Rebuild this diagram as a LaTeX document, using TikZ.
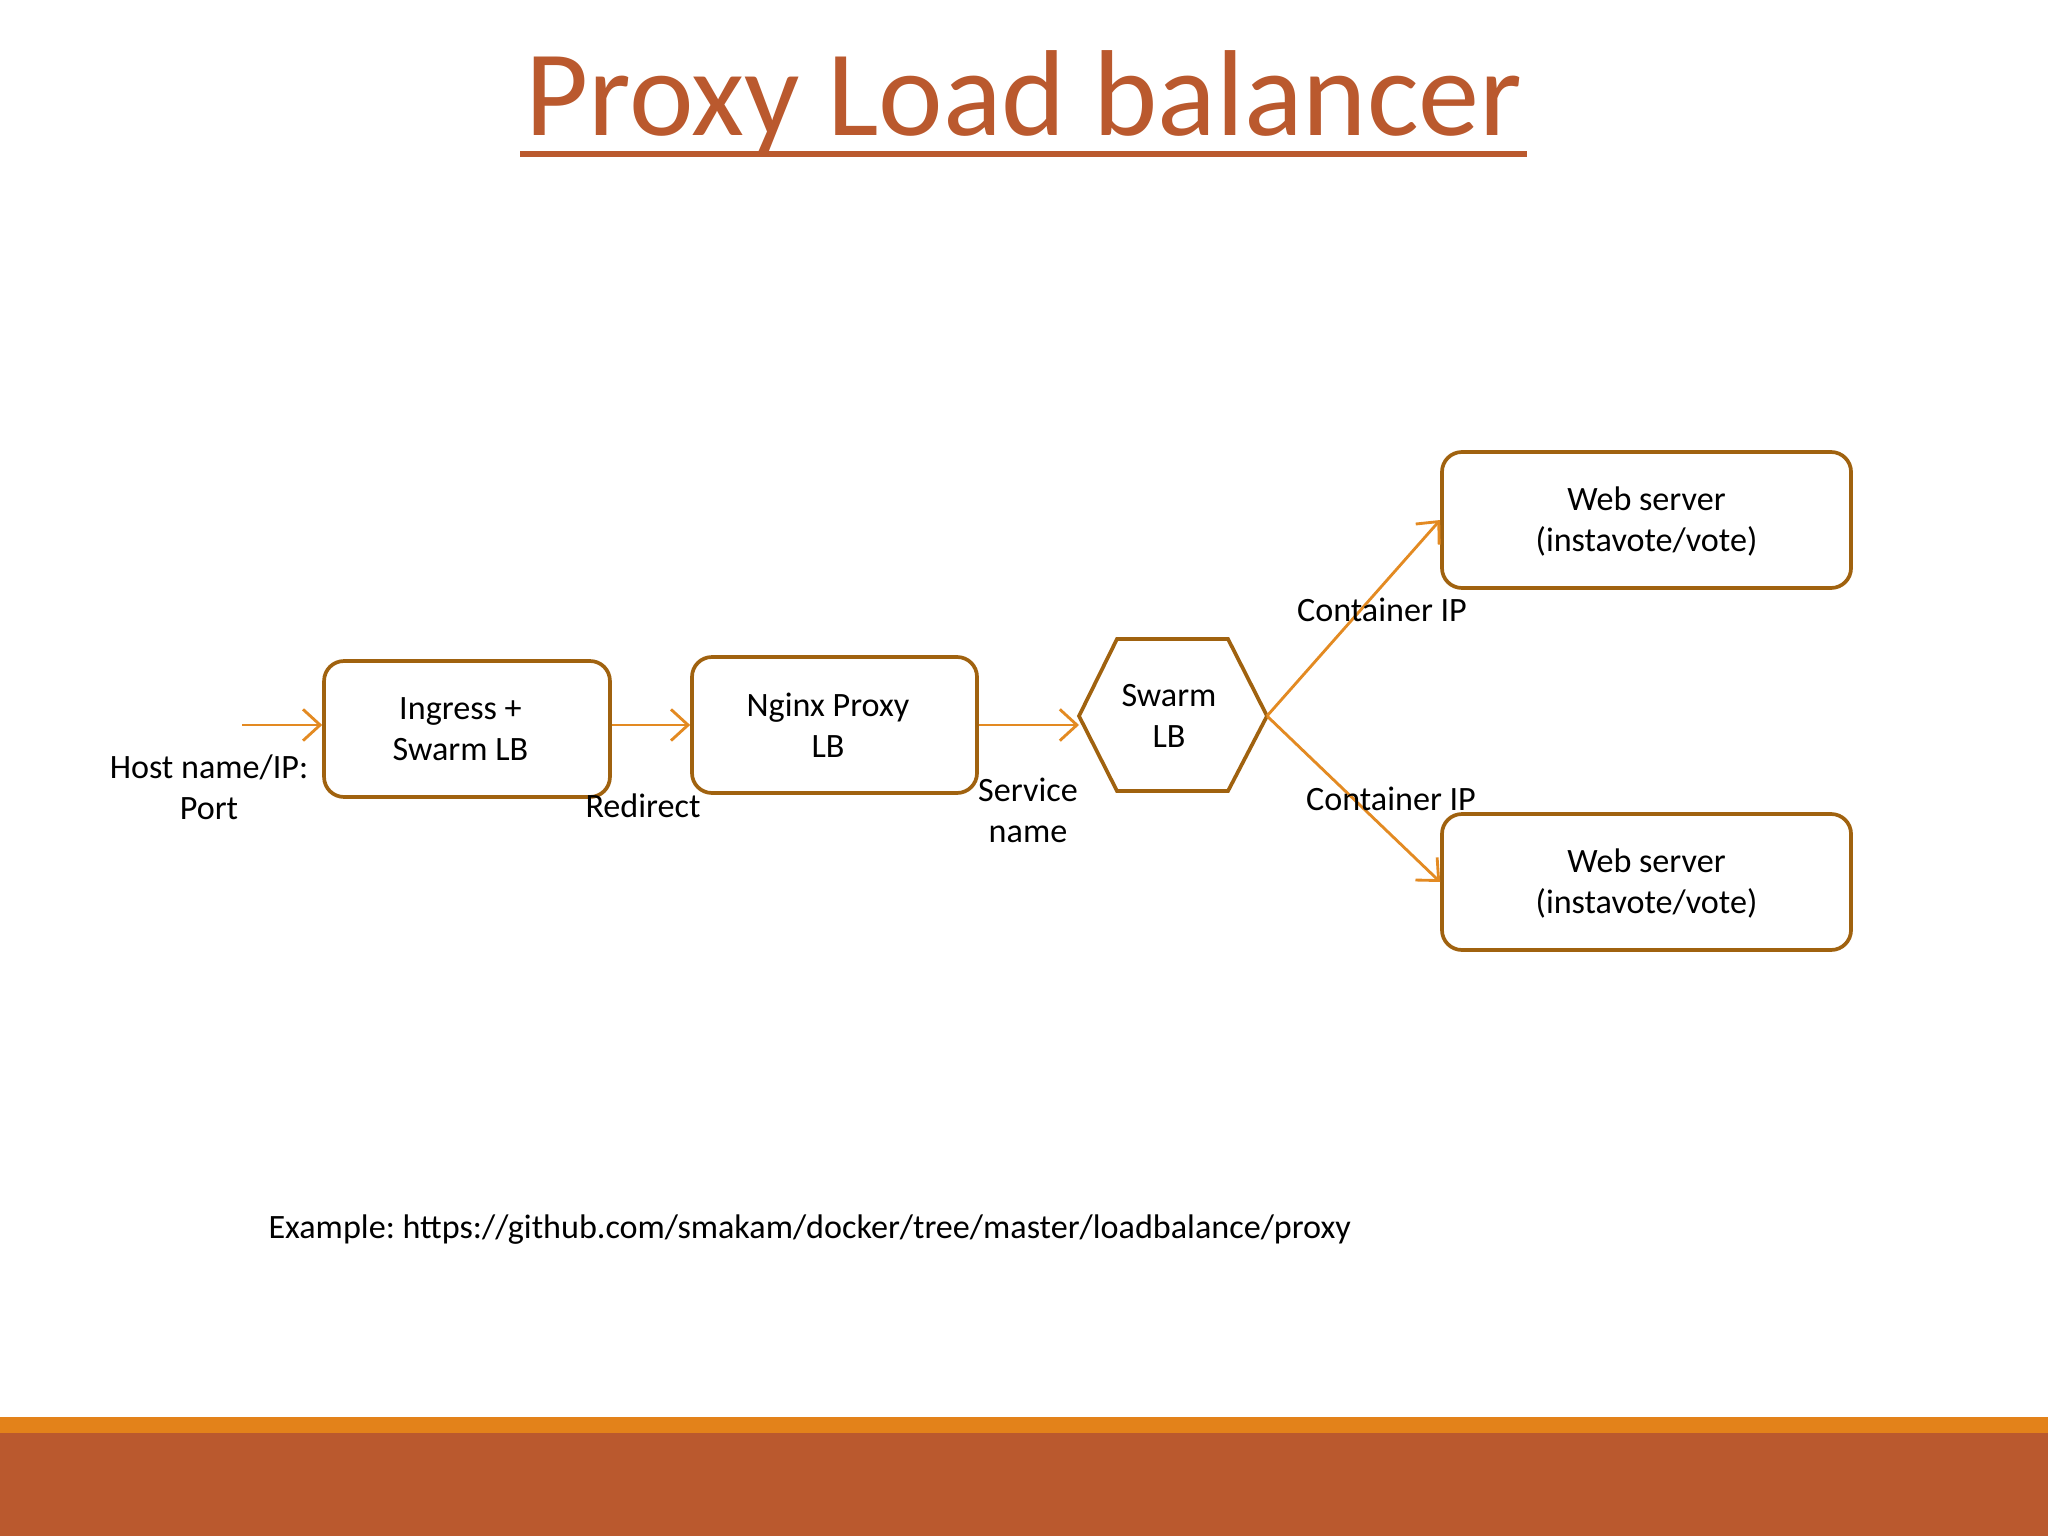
\documentclass[tikz,border=0pt]{standalone}
\usepackage{fontspec}
\setmainfont{Carlito}
\usetikzlibrary{arrows.meta}
\definecolor{rust}{HTML}{BA592E}
\definecolor{bar}{HTML}{E3821A}
\definecolor{boxc}{HTML}{A0620F}
\definecolor{arrc}{HTML}{E38A22}
\frenchspacing
\begin{document}
\begin{tikzpicture}[x=0.3515625pt,y=-0.3515625pt,
  box/.style={draw=boxc, line width=1.3pt, rounded corners=7pt, fill=white, align=center,
    minimum height=47.8pt, font=\fontsize{12}{14.4}\selectfont, inner sep=0pt},
  arr/.style={draw=arrc, line width=1pt, -{Straight Barb[length=6pt,width=11pt]}},
  lbl/.style={align=center, font=\fontsize{12}{14.4}\selectfont, inner sep=0pt}]
\useasboundingbox (0,0) rectangle (2048,1536);
\fill[white] (0,0) rectangle (2048,1536);
% title
\node[text=rust, font=\fontsize{43}{50}\selectfont, anchor=base, inner sep=0pt] (title) at (1024,136) {Proxy Load balancer};
\draw[rust, line width=1.8pt] (520,154) -- (1527,154);
% boxes
\node[box, minimum width=100.5pt] (ingress) at (467,729) {Ingress +\kern4.6pt\\Swarm LB\kern4.6pt};
\node[box, minimum width=100.2pt] (nginx) at (834.5,725) {Nginx Proxy\kern4.6pt\\LB\kern4.6pt};
\node[box, minimum width=143.8pt] (web1) at (1646.5,520) {\rule{0pt}{9.5pt}Web server\\(instavote/vote)};
\node[box, minimum width=143.8pt] (web2) at (1646.5,882) {\rule{0pt}{9.5pt}Web server\\(instavote/vote)};
% hexagon
\draw[boxc, line width=1.3pt, line join=miter, fill=white]
  (1079,716) coordinate (hexL) -- (1117,639) -- (1228,639) -- (1267,716) coordinate (hexR)
  -- (1228,791) -- (1117,791) -- cycle;
\node[lbl] (swarm) at (1169,716) {Swarm\\LB};
% connectors
\coordinate (start) at (242,725);
\draw[arr] (start) -- (start -| ingress.west);
\draw[arr] (ingress.east |- nginx.west) -- (nginx.west);
\draw[arr] (nginx.east) -- (nginx.east -| hexL);
\draw[arr] (hexR) -- (web1.west);
\draw[arr] (hexR) -- (web2.west);
% labels
\node[lbl] (host) at (209,787) {Host name/IP:\\Port};
\node[lbl] (redirect) at (643,806) {Redirect};
\node[lbl] (service) at (1028,810) {Service\\name};
\node[lbl] (cip1) at (1382,610) {Container IP};
\node[lbl] (cip2) at (1391,799) {Container IP};
\node[lbl, anchor=west] (example) at (268,1230) {Example: https://github.com/smakam/docker/tree/master/loadbalance/proxy};
% bottom bars
\fill[bar] (0,1417) rectangle (2048,1433);
\fill[rust] (0,1433) rectangle (2048,1536);
\end{tikzpicture}
\end{document}
